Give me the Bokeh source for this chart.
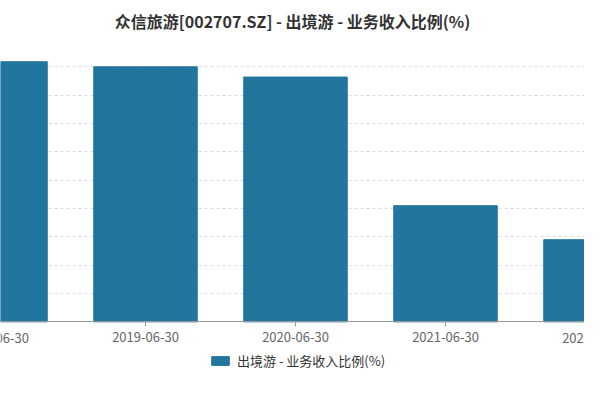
from bokeh.plotting import figure
from bokeh.models import Range1d, FixedTicker, Legend, LegendItem, Label
from bokeh.embed import file_html
from bokeh.resources import INLINE

title = "众信旅游[002707.SZ] - 出境游 - 业务收入比例(%)"
series_name = "出境游 - 业务收入比例(%)"
categories = ["2018-06-30", "2019-06-30", "2020-06-30", "2021-06-30", "2022-06-30"]
values = [91.8, 90.0, 86.4, 41.0, 29.0]
grid_values = [10, 20, 30, 40, 50, 60, 70, 80, 90]

FONT = "Noto Sans CJK SC"
BAR = "#22759d"

idx = list(range(len(categories)))

p = figure(width=584, height=384, output_backend="svg", toolbar_location=None,
           x_range=Range1d(5 / 150, 589 / 150), y_range=Range1d(-22.1, 100.0),
           min_border_left=0, min_border_right=0, min_border_top=36, min_border_bottom=0)
p.outline_line_color = None
p.background_fill_color = "white"

r = p.vbar(x=idx, top=values, width=0.69, color=BAR, line_color=BAR)

p.title.text = title
p.title.align = "center"
p.title.text_font = FONT
p.title.text_font_size = "16px"
p.title.text_font_style = "bold"
p.title.text_color = "#333333"
p.title.offset = 0
p.title.standoff = 12

p.yaxis.visible = False
p.ygrid.ticker = FixedTicker(ticks=grid_values)
p.ygrid.grid_line_color = "#dcdcdc"
p.ygrid.grid_line_dash = "3 3"
p.xgrid.visible = False

p.xaxis.fixed_location = 0
p.xaxis.ticker = FixedTicker(ticks=idx)
p.xaxis.major_label_overrides = {i: c for i, c in zip(idx, categories)}
p.xaxis.axis_line_color = "#999999"
p.xaxis.major_tick_line_color = "#999999"
p.xaxis.major_tick_out = 5
p.xaxis.major_tick_in = 0
p.xaxis.minor_tick_line_color = None
p.xaxis.major_label_text_font = FONT
p.xaxis.major_label_text_font_size = "13px"
p.xaxis.major_label_text_color = "#666666"
p.xaxis.major_label_standoff = 5

for i in (0, len(categories) - 1):
    p.add_layout(Label(x=i, y=-5.6, text=categories[i], text_align="center",
                       text_baseline="middle", text_font=FONT, text_font_size="13px",
                       text_color="#666666"))

legend = Legend(items=[LegendItem(label=series_name, renderers=[r])],
                orientation="horizontal", location=(209, 14),
                label_text_font=FONT, label_text_font_size="13px",
                label_text_color="#333333", glyph_width=22, glyph_height=11,
                border_line_color=None, background_fill_alpha=0,
                margin=0, padding=0, label_standoff=6)
p.add_layout(legend, "center")

open("out.html", "w").write(file_html(p, INLINE))
